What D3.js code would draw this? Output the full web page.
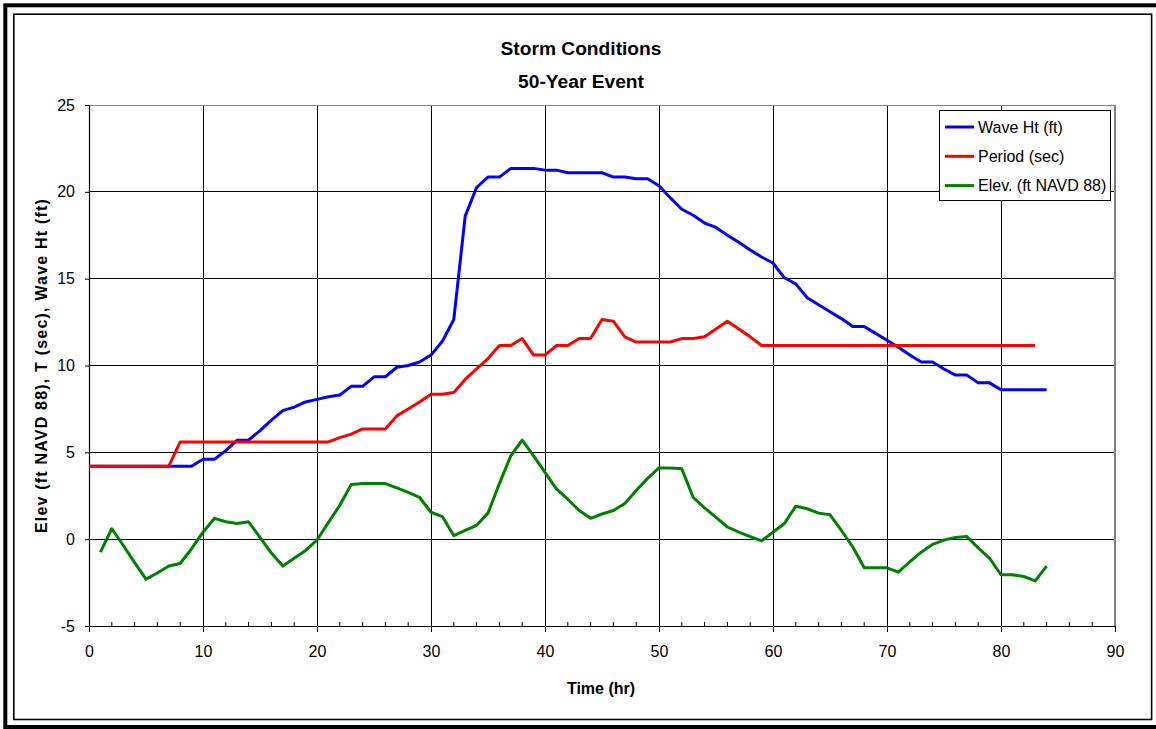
<!DOCTYPE html>
<html>
<head>
<meta charset="utf-8">
<script src="https://cdn.jsdelivr.net/npm/d3@7"></script>
<style>
  html, body { margin: 0; padding: 0; background: #fff; }
  svg { display: block; font-family: Arial, "Liberation Sans", sans-serif; }
</style>
</head>
<body>
<svg id="chart" width="1156" height="729"></svg>
<script>
// Hourly storm time series (hours from start)
const waveHours = d3.range(0, 85);
const waveHt = [
  4.2, 4.2, 4.2, 4.2, 4.2, 4.2, 4.2, 4.2, 4.2, 4.2,
  4.6, 4.6, 5.1, 5.7, 5.7, 6.25, 6.85, 7.4, 7.6, 7.9,
  8.05, 8.2, 8.3, 8.8, 8.8, 9.35, 9.35, 9.9, 10.0, 10.2,
  10.6, 11.4, 12.65, 18.6, 20.25, 20.85, 20.85, 21.35, 21.35, 21.35,
  21.25, 21.25, 21.1, 21.1, 21.1, 21.1, 20.85, 20.85, 20.75, 20.75,
  20.35, 19.65, 19.0, 18.65, 18.2, 17.95, 17.5, 17.1, 16.65, 16.25,
  15.9, 15.05, 14.7, 13.9, 13.5, 13.1, 12.7, 12.25, 12.25, 11.85,
  11.45, 11.05, 10.6, 10.2, 10.2, 9.8, 9.45, 9.45, 9.0, 9.0,
  8.6, 8.6, 8.6, 8.6, 8.6
];

const periodHours = d3.range(0, 84);
const period = [
  4.2, 4.2, 4.2, 4.2, 4.2, 4.2, 4.2, 4.2, 5.6, 5.6,
  5.6, 5.6, 5.6, 5.6, 5.6, 5.6, 5.6, 5.6, 5.6, 5.6,
  5.6, 5.6, 5.85, 6.05, 6.35, 6.35, 6.35, 7.1, 7.5, 7.9,
  8.35, 8.35, 8.45, 9.2, 9.8, 10.4, 11.15, 11.15, 11.55, 10.6,
  10.6, 11.15, 11.15, 11.55, 11.55, 12.65, 12.55, 11.65, 11.35, 11.35,
  11.35, 11.35, 11.55, 11.55, 11.65, 12.1, 12.55, 12.1, 11.65, 11.15,
  11.15, 11.15, 11.15, 11.15, 11.15, 11.15, 11.15, 11.15, 11.15, 11.15,
  11.15, 11.15, 11.15, 11.15, 11.15, 11.15, 11.15, 11.15, 11.15, 11.15,
  11.15, 11.15, 11.15, 11.15
];

const elevHours = d3.range(1, 85);
const elev = [
  -0.75, 0.6, -0.35, -1.35, -2.3, -1.95, -1.55, -1.4, -0.55, 0.4,
  1.2, 1.0, 0.9, 1.0, 0.1, -0.8, -1.55, -1.1, -0.65, -0.05,
  0.95, 1.95, 3.15, 3.2, 3.2, 3.2, 2.95, 2.7, 2.4, 1.55,
  1.3, 0.2, 0.5, 0.8, 1.5, 3.2, 4.8, 5.7, 4.8, 3.85,
  2.9, 2.3, 1.65, 1.2, 1.45, 1.65, 2.05, 2.8, 3.5, 4.1,
  4.1, 4.05, 2.4, 1.8, 1.25, 0.7, 0.4, 0.15, -0.1, 0.4,
  0.9, 1.9, 1.75, 1.5, 1.4, 0.5, -0.45, -1.65, -1.65, -1.65,
  -1.9, -1.3, -0.75, -0.3, -0.05, 0.1, 0.15, -0.5, -1.1, -2.05,
  -2.05, -2.15, -2.4, -1.55
];

const xTicks = d3.range(0, 91, 10);
const xMinorTicks = d3.range(0, 91, 2);
const yTicks = d3.range(-5, 26, 5);

const seriesNames = ["Wave Ht (ft)", "Period (sec)", "Elev. (ft NAVD 88)"];
const seriesColors = ["#0000FF", "#FF0000", "#008000"];

const svg = d3.select("#chart");
const plainNumber = d => String(d);

// Page frame: heavy outer border and thin inner border
svg.append("rect")
  .attr("x", 5.3).attr("y", 5.3)
  .attr("width", 1160).attr("height", 721.7)
  .attr("fill", "none").attr("stroke", "#000").attr("stroke-width", 4);
svg.append("rect")
  .attr("x", 13.8).attr("y", 14.2)
  .attr("width", 1137.8).attr("height", 705.3)
  .attr("fill", "none").attr("stroke", "#000").attr("stroke-width", 1.6);

const plot = { left: 89, top: 105, right: 1115, bottom: 626 };

const x = d3.scaleLinear().domain([0, 90]).range([plot.left, plot.right]);
const y = d3.scaleLinear().domain([-5, 25]).range([plot.bottom, plot.top]);

// Gridlines
const grid = svg.append("g");
grid.selectAll("line.v").data(xTicks.filter(t => t > 0 && t < 90)).join("line")
  .attr("x1", d => x(d)).attr("x2", d => x(d))
  .attr("y1", plot.top).attr("y2", plot.bottom)
  .attr("stroke", "#000").attr("stroke-width", 1).attr("shape-rendering", "crispEdges");
grid.selectAll("line.h").data(yTicks.filter(t => t > -5 && t < 25)).join("line")
  .attr("x1", plot.left).attr("x2", plot.right)
  .attr("y1", d => y(d)).attr("y2", d => y(d))
  .attr("stroke", "#000").attr("stroke-width", 1).attr("shape-rendering", "crispEdges");

// Plot area border (top and right in gray)
svg.append("line")
  .attr("x1", plot.left).attr("x2", plot.right)
  .attr("y1", plot.top).attr("y2", plot.top)
  .attr("stroke", "#808080").attr("stroke-width", 1).attr("shape-rendering", "crispEdges");
svg.append("line")
  .attr("x1", plot.right).attr("x2", plot.right)
  .attr("y1", plot.top).attr("y2", plot.bottom)
  .attr("stroke", "#808080").attr("stroke-width", 1.5).attr("shape-rendering", "crispEdges");

// X axis: major ticks below, minor ticks above the axis line
const xAxis = svg.append("g").attr("transform", `translate(0,${plot.bottom})`);
xAxis.call(d3.axisBottom(x).tickValues(xTicks).tickSize(6).tickSizeOuter(0).tickPadding(14).tickFormat(plainNumber));
xAxis.select(".domain").attr("stroke", "#000").attr("stroke-width", 1.2);
xAxis.selectAll(".tick line").attr("stroke", "#000");
xAxis.selectAll(".tick text").attr("font-size", 16).attr("fill", "#000")
  .attr("font-family", "Arial, 'Liberation Sans', sans-serif");
xAxis.selectAll("line.minor").data(xMinorTicks.filter(t => t % 10 !== 0)).join("line")
  .attr("class", "minor")
  .attr("x1", d => x(d)).attr("x2", d => x(d))
  .attr("y1", 0).attr("y2", -4)
  .attr("stroke", "#000").attr("stroke-width", 1);

// Y axis
const yAxis = svg.append("g").attr("transform", `translate(${plot.left},0)`);
yAxis.call(d3.axisLeft(y).tickValues(yTicks).tickSize(4).tickSizeOuter(0).tickPadding(10).tickFormat(plainNumber));
yAxis.select(".domain").attr("stroke", "#000").attr("stroke-width", 1.2);
yAxis.selectAll(".tick line").attr("stroke", "#000");
yAxis.selectAll(".tick text").attr("font-size", 16).attr("fill", "#000")
  .attr("font-family", "Arial, 'Liberation Sans', sans-serif");

// Series lines
const line = d3.line().x(d => x(d[0])).y(d => y(d[1]));
const series = [
  d3.zip(waveHours, waveHt),
  d3.zip(periodHours, period),
  d3.zip(elevHours, elev)
];
svg.append("g").selectAll("path").data(series).join("path")
  .attr("d", line)
  .attr("fill", "none")
  .attr("stroke", (d, i) => seriesColors[i])
  .attr("stroke-width", 3)
  .attr("stroke-linejoin", "round");

// Titles
svg.append("text").attr("x", 581).attr("y", 55)
  .attr("text-anchor", "middle").attr("font-size", 19.2).attr("font-weight", "bold")
  .text("Storm Conditions");
svg.append("text").attr("x", 581).attr("y", 88)
  .attr("text-anchor", "middle").attr("font-size", 19.2).attr("font-weight", "bold")
  .text("50-Year Event");

svg.append("text").attr("x", (plot.left + plot.right) / 2 - 1).attr("y", 694)
  .attr("text-anchor", "middle").attr("font-size", 16).attr("font-weight", "bold")
  .text("Time (hr)");
svg.append("text")
  .attr("transform", `translate(47,${(plot.top + plot.bottom) / 2}) rotate(-90)`)
  .attr("text-anchor", "middle").attr("font-size", 16).attr("font-weight", "bold")
  .attr("letter-spacing", 1.2)
  .text("Elev (ft NAVD 88), T (sec), Wave Ht (ft)");

// Legend
const legend = svg.append("g");
legend.append("rect")
  .attr("x", 939.5).attr("y", 110.5).attr("width", 171).attr("height", 90)
  .attr("fill", "#fff").attr("stroke", "#000").attr("stroke-width", 1);
const items = legend.selectAll("g.item").data(seriesNames).join("g")
  .attr("class", "item")
  .attr("transform", (d, i) => `translate(0,${127 + i * 29.3})`);
items.append("line")
  .attr("x1", 945).attr("x2", 974).attr("y1", 0).attr("y2", 0)
  .attr("stroke", (d, i) => seriesColors[i]).attr("stroke-width", 3);
items.append("text")
  .attr("x", 978).attr("y", 5.8).attr("font-size", 16)
  .text(d => d);
</script>
</body>
</html>
